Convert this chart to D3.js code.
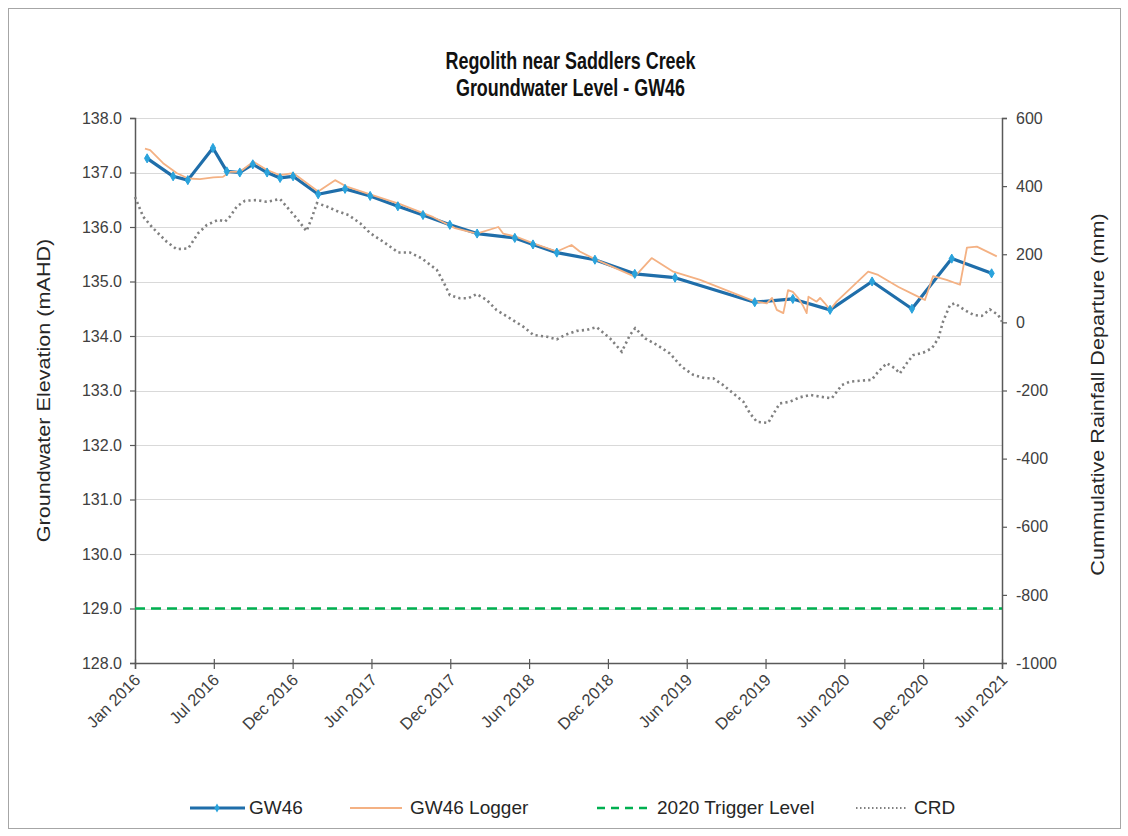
<!DOCTYPE html>
<html><head><meta charset="utf-8">
<script src="https://cdn.jsdelivr.net/npm/d3@7"></script>
<style>body{margin:0;background:#fff;} svg{display:block;font-family:"Liberation Sans",Arial,sans-serif;}</style>
</head><body>
<script>
const titleLines = ["Regolith near Saddlers Creek", "Groundwater Level - GW46"];
const leftLabel = "Groundwater Elevation (mAHD)";
const rightLabel = "Cummulative Rainfall Departure (mm)";
const xTickDates = ["2016-01-01","2016-07-01","2016-12-30","2017-06-30","2017-12-29","2018-06-29","2018-12-28","2019-06-28","2019-12-27","2020-06-26","2020-12-25","2021-06-25"];
const leftTicks = [128,129,130,131,132,133,134,135,136,137,138];
const rightTicks = [-1000,-800,-600,-400,-200,0,200,400,600];
const triggerLevel = 129.0;
const legendNames = ["GW46","GW46 Logger","2020 Trigger Level","CRD"];

const gwDates = ["2016-01-29","2016-03-29","2016-05-02","2016-06-29","2016-07-31","2016-08-30","2016-09-29","2016-11-01","2016-12-01","2016-12-31","2017-02-27","2017-04-30","2017-06-27","2017-08-30","2017-10-27","2017-12-28","2018-03-01","2018-05-27","2018-07-08","2018-09-01","2018-11-28","2019-02-28","2019-06-01","2019-12-02","2020-02-28","2020-05-24","2020-08-29","2020-11-29","2021-03-01","2021-06-01"];
const gwValues = [137.26,136.93,136.86,137.45,137.02,137.0,137.15,137.0,136.9,136.93,136.6,136.7,136.57,136.38,136.22,136.04,135.88,135.8,135.68,135.53,135.4,135.14,135.07,134.62,134.68,134.48,135.0,134.5,135.42,135.15];

const loggerDates = ["2016-01-24","2016-02-05","2016-03-06","2016-04-06","2016-05-03","2016-05-30","2016-06-30","2016-07-22","2016-08-07","2016-08-30","2016-09-30","2016-10-31","2016-12-01","2016-12-31","2017-02-27","2017-04-07","2017-05-04","2017-06-27","2017-09-04","2017-11-20","2018-01-09","2018-02-28","2018-04-19","2018-04-30","2018-05-31","2018-07-09","2018-09-01","2018-10-05","2018-10-24","2018-11-28","2019-02-28","2019-04-08","2019-05-28","2019-07-29","2019-12-03","2019-12-30","2020-01-11","2020-01-22","2020-02-06","2020-02-17","2020-02-28","2020-03-12","2020-03-23","2020-03-31","2020-04-04","2020-04-23","2020-05-01","2020-05-12","2020-05-24","2020-06-08","2020-08-20","2020-09-12","2020-10-29","2020-12-06","2020-12-29","2021-01-17","2021-02-17","2021-03-20","2021-04-05","2021-04-28","2021-06-13"];
const loggerValues = [137.44,137.41,137.17,136.99,136.89,136.88,136.91,136.92,137.01,137.01,137.2,137.05,136.95,136.99,136.65,136.86,136.74,136.6,136.42,136.18,135.98,135.88,136.0,135.88,135.82,135.7,135.55,135.67,135.55,135.41,135.09,135.43,135.18,135.03,134.63,134.6,134.7,134.48,134.42,134.84,134.81,134.69,134.55,134.42,134.72,134.63,134.7,134.6,134.48,134.63,135.18,135.12,134.9,134.75,134.66,135.1,135.03,134.94,135.62,135.64,135.46];

const crdDates = ["2016-01-01","2016-01-20","2016-02-12","2016-03-14","2016-04-06","2016-05-03","2016-05-26","2016-06-15","2016-07-11","2016-07-27","2016-08-07","2016-08-23","2016-09-11","2016-10-08","2016-10-31","2016-12-01","2016-12-16","2017-01-08","2017-01-31","2017-02-12","2017-02-24","2017-03-19","2017-04-11","2017-05-08","2017-06-04","2017-06-27","2017-07-27","2017-08-31","2017-09-27","2017-10-24","2017-11-28","2017-12-13","2017-12-28","2018-01-20","2018-02-09","2018-02-28","2018-03-23","2018-04-15","2018-05-16","2018-06-16","2018-07-09","2018-08-09","2018-09-01","2018-09-20","2018-10-17","2018-11-09","2018-12-02","2019-01-02","2019-01-29","2019-02-17","2019-03-01","2019-03-24","2019-04-20","2019-05-20","2019-06-16","2019-07-13","2019-08-09","2019-08-28","2019-09-20","2019-10-13","2019-11-06","2019-11-21","2019-12-07","2020-01-02","2020-01-22","2020-01-29","2020-02-21","2020-03-15","2020-04-08","2020-05-01","2020-05-28","2020-06-20","2020-07-09","2020-08-05","2020-08-28","2020-09-12","2020-10-02","2020-10-21","2020-11-01","2020-11-17","2020-12-02","2020-12-25","2021-01-14","2021-01-29","2021-02-09","2021-02-25","2021-03-08","2021-03-31","2021-04-20","2021-05-09","2021-05-28","2021-06-16","2021-06-25"];
const crdValues = [368,310,276,237,215,217,262,286,301,296,310,340,357,359,354,362,340,306,268,306,350,340,327,315,291,262,237,205,205,188,154,119,80,71,71,83,66,36,12,-13,-37,-42,-50,-37,-25,-22,-14,-47,-86,-37,-17,-47,-66,-91,-130,-154,-164,-164,-184,-208,-233,-267,-292,-295,-252,-238,-233,-220,-213,-218,-223,-184,-174,-171,-169,-145,-120,-135,-150,-120,-96,-89,-76,-47,3,51,56,36,22,19,38,22,2];

const W = 1128, H = 836;
const plot = {left:135, right:1002, top:118, bottom:663};
const parse = d3.utcParse("%Y-%m-%d");
const fmt = d3.utcFormat("%b %Y");
const FONT = '"Liberation Sans",Arial,sans-serif';

const svg = d3.select("body").append("svg").attr("width", W).attr("height", H);
svg.append("rect").attr("x",8.5).attr("y",8.5).attr("width",1112).attr("height",820)
  .attr("fill","#fff").attr("stroke","#a6a6a6").attr("stroke-width",1);

const x = d3.scaleUtc().domain([parse(xTickDates[0]), parse(xTickDates[xTickDates.length-1])]).range([plot.left, plot.right]);
const yL = d3.scaleLinear().domain([128,138]).range([plot.bottom, plot.top]);
const yR = d3.scaleLinear().domain([-1000,600]).range([plot.bottom, plot.top]);

// gridlines
svg.append("g").selectAll("line").data(leftTicks.slice(1)).join("line")
  .attr("x1",plot.left).attr("x2",plot.right)
  .attr("y1",d=>Math.round(yL(d))+0.5).attr("y2",d=>Math.round(yL(d))+0.5)
  .attr("stroke","#d9d9d9").attr("stroke-width",1.2);

// axes
const axisColor = "#595959";
const gL = svg.append("g").attr("transform",`translate(${plot.left},0)`)
  .call(d3.axisLeft(yL).tickValues(leftTicks).tickFormat(d3.format(".1f")).tickSize(5).tickPadding(8));
const gR = svg.append("g").attr("transform",`translate(${plot.right},0)`)
  .call(d3.axisRight(yR).tickValues(rightTicks).tickFormat(d=>String(d)).tickSize(5).tickPadding(9));
const gB = svg.append("g").attr("transform",`translate(0,${plot.bottom})`)
  .call(d3.axisBottom(x).tickValues(xTickDates.map(parse)).tickFormat(fmt).tickSize(6).tickPadding(4));
[gL,gR,gB].forEach(g=>{
  g.select(".domain").attr("stroke",axisColor).attr("stroke-width",1.5);
  g.selectAll(".tick line").attr("stroke",axisColor).attr("stroke-width",1.2);
  g.selectAll("text").attr("fill","#404040").style("font-size","16px").style("font-family",FONT);
});
gB.selectAll(".tick line").attr("y1",-4);
gB.selectAll(".tick text").style("font-size","16.5px").attr("text-anchor","end").attr("dy",null).attr("y",0)
  .attr("transform","translate(6,18) rotate(-45)");

// axis titles
svg.append("text").attr("transform",`translate(50,${(plot.top+plot.bottom)/2}) rotate(-90) scale(1.2,1)`)
  .attr("text-anchor","middle").style("font-size","18px").attr("fill","#262626").text(leftLabel);
svg.append("text").attr("transform",`translate(1104,${(plot.top+plot.bottom)/2+4}) rotate(-90) scale(1.2,1)`)
  .attr("text-anchor","middle").style("font-size","18px").attr("fill","#262626").text(rightLabel);

// title
svg.append("g").selectAll("g").data(titleLines).join("g")
  .attr("transform",(d,i)=>`translate(${(plot.left+plot.right)/2+2},${69+i*27}) scale(0.78,1)`)
  .append("text").attr("text-anchor","middle").style("font-size","23px").style("font-weight","bold")
  .attr("fill","#111").text(d=>d);

// CRD
const crd = crdDates.map((d,i)=>({d:parse(d), v:crdValues[i]}));
svg.append("path").datum(crd).attr("fill","none").attr("stroke","#808080").attr("stroke-width",2.6)
  .attr("stroke-dasharray","2.2,3.2")
  .attr("d", d3.line().x(p=>x(p.d)).y(p=>yR(p.v)));

// Trigger level
svg.append("line").attr("x1",plot.left).attr("x2",plot.right)
  .attr("y1",yL(triggerLevel)).attr("y2",yL(triggerLevel))
  .attr("stroke","#00B050").attr("stroke-width",2.5).attr("stroke-dasharray","10,6");

// GW46 line
const gw = gwDates.map((d,i)=>({d:parse(d), v:gwValues[i]}));
const logger = loggerDates.map((d,i)=>({d:parse(d), v:loggerValues[i]}));
svg.append("path").datum(gw).attr("fill","none").attr("stroke","#1F6EAA").attr("stroke-width",3.2)
  .attr("stroke-linejoin","round")
  .attr("d", d3.line().x(p=>x(p.d)).y(p=>yL(p.v)));
// Logger line
svg.append("path").datum(logger).attr("fill","none").attr("stroke","#F4B183").attr("stroke-width",1.8)
  .attr("stroke-linejoin","round")
  .attr("d", d3.line().x(p=>x(p.d)).y(p=>yL(p.v)));
// GW46 markers
const diamond = d3.symbol().type(d3.symbolDiamond).size(24);
svg.append("g").selectAll("path").data(gw).join("path")
  .attr("transform",p=>`translate(${x(p.d)},${yL(p.v)})`).attr("d",diamond)
  .attr("fill","#2AA3DC").attr("stroke","#2AA3DC");

// Legend
const ly = 808;
const lg = svg.append("g");
lg.append("line").attr("x1",190).attr("x2",245).attr("y1",ly).attr("y2",ly).attr("stroke","#1F6EAA").attr("stroke-width",3);
lg.append("path").attr("transform",`translate(217,${ly})`).attr("d",diamond).attr("fill","#2AA3DC");
lg.append("line").attr("x1",350).attr("x2",402).attr("y1",ly).attr("y2",ly).attr("stroke","#F4B183").attr("stroke-width",2);
lg.append("line").attr("x1",597).attr("x2",652).attr("y1",ly).attr("y2",ly).attr("stroke","#00B050").attr("stroke-width",2.5).attr("stroke-dasharray","8,6");
lg.append("line").attr("x1",856).attr("x2",907).attr("y1",ly).attr("y2",ly).attr("stroke","#808080").attr("stroke-width",2).attr("stroke-dasharray","1.5,2.5");
const lx = [249,410,657,914];
lg.selectAll("text").data(legendNames).join("text")
  .attr("x",(d,i)=>lx[i]).attr("y",ly+6).style("font-size","19px").attr("fill","#262626").text(d=>d);
</script>
</body></html>
